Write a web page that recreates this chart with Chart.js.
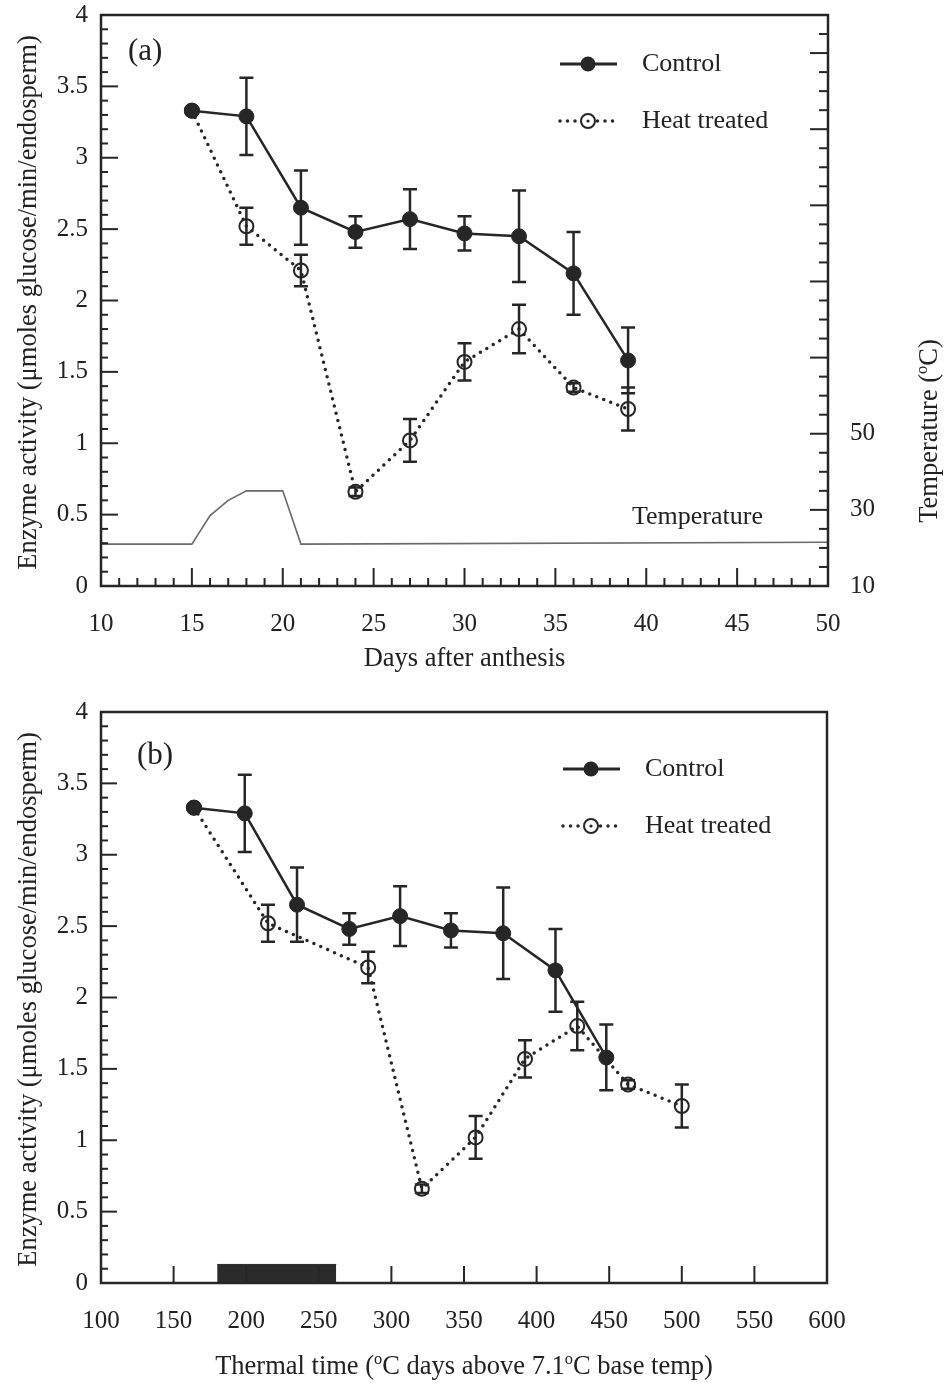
<!DOCTYPE html>
<html>
<head>
<meta charset="utf-8">
<script src="https://cdn.jsdelivr.net/npm/chart.js@4.4.0/dist/chart.umd.min.js"></script>
<style>
  body { margin: 0; background: #fff; }
  canvas { position: absolute; left: 0; }
  #chartA { top: 0; }
  #chartB { top: 690px; }
</style>
</head>
<body>
<canvas id="chartA" width="946" height="690"></canvas>
<canvas id="chartB" width="946" height="693"></canvas>
<script>
// panel (a): enzyme activity vs days after anthesis
const days = [15, 18, 21, 24, 27, 30, 33, 36, 39];
const controlActivity = [3.33, 3.29, 2.65, 2.48, 2.57, 2.47, 2.45, 2.19, 1.58];
const controlError = [0, 0.27, 0.26, 0.11, 0.21, 0.12, 0.32, 0.29, 0.23];
const heatActivity = [3.33, 2.52, 2.21, 0.66, 1.02, 1.57, 1.80, 1.39, 1.24];
const heatError = [0, 0.13, 0.11, 0.03, 0.15, 0.13, 0.17, 0.03, 0.15];

// temperature regime (right axis of panel a)
const tempDays = [10, 15, 16, 17, 18, 20, 21, 50];
const tempValues = [21, 21, 28.5, 32.5, 35, 35, 21, 21.5];
const tempLabels = [10, 30, 50];

// panel (b): same activities vs thermal time
const controlThermal = [164, 199, 235, 271, 306, 341, 377, 413, 448];
const heatThermal = [164, 215, 284, 321, 358, 392, 428, 463, 500];
const heatPeriod = [180, 262];       // thermal time of the heat treatment
const heatPeriodHeight = 0.13;

const family = '"Liberation Serif", "Times New Roman", serif';
const ink = '#262626';

Chart.defaults.font.family = family;
Chart.defaults.font.size = 25;
Chart.defaults.color = '#222';

const pts = (xs, ys) => xs.map((x, i) => ({ x, y: ys[i] }));

// text with optional superscript pieces, centred on (x, y)
function drawRich(ctx, parts, x, y, size, rotate) {
    ctx.save();
    ctx.translate(x, y);
    if (rotate) ctx.rotate(-Math.PI / 2);
    ctx.fillStyle = '#222';
    ctx.textBaseline = 'alphabetic';
    const supSize = size * 0.62;
    const setFont = p => { ctx.font = `${p.sup ? supSize : size}px ${family}`; };
    let total = 0;
    parts.forEach(p => { setFont(p); total += ctx.measureText(p.t).width; });
    let cx = -total / 2;
    parts.forEach(p => {
        setFont(p);
        ctx.fillText(p.t, cx, p.sup ? size * 0.35 - size * 0.4 : size * 0.35);
        cx += ctx.measureText(p.t).width;
    });
    ctx.restore();
}

function drawDotted(ctx, x1, x2, y) {
    ctx.save();
    ctx.setLineDash([0, 7.5]);
    ctx.lineCap = 'round';
    ctx.lineWidth = 3.5;
    ctx.strokeStyle = ink;
    ctx.beginPath();
    ctx.moveTo(x1, y);
    ctx.lineTo(x2, y);
    ctx.stroke();
    ctx.restore();
}

const decor = {
    id: 'decor',
    afterDatasetsDraw(chart) {
        // error bars on top of the markers
        const { ctx } = chart;
        const xs = chart.scales.x, ys = chart.scales.y;
        ctx.save();
        ctx.strokeStyle = ink;
        ctx.lineWidth = 2.5;
        chart.data.datasets.forEach(ds => {
            if (!ds.errors) return;
            ds.data.forEach((p, i) => {
                const e = ds.errors[i];
                if (!e) return;
                const px = xs.getPixelForValue(p.x);
                const top = ys.getPixelForValue(p.y + e);
                const bot = ys.getPixelForValue(p.y - e);
                ctx.beginPath();
                ctx.moveTo(px, top); ctx.lineTo(px, bot);
                ctx.moveTo(px - 7, top); ctx.lineTo(px + 7, top);
                ctx.moveTo(px - 7, bot); ctx.lineTo(px + 7, bot);
                ctx.stroke();
            });
        });
        ctx.restore();
    },
    afterDraw(chart, args, opts) {
        const { ctx, chartArea: a, scales } = chart;
        ctx.save();
        ctx.strokeStyle = ink;
        // inward tick marks
        ctx.lineWidth = 2;
        opts.ticks.forEach(t => {
            const s = scales[t.axis];
            const n = Math.round((t.to - t.from) / t.minor);
            for (let i = 0; i <= n; i++) {
                const v = t.from + i * t.minor;
                const k = (v - t.base) / t.major;
                const len = Math.abs(k - Math.round(k)) < 1e-6 ? t.majorLen : t.minorLen;
                const p = s.getPixelForValue(v);
                ctx.beginPath();
                if (t.side === 'left') { ctx.moveTo(a.left, p); ctx.lineTo(a.left + len, p); }
                if (t.side === 'right') { ctx.moveTo(a.right, p); ctx.lineTo(a.right - len, p); }
                if (t.side === 'bottom') { ctx.moveTo(p, a.bottom); ctx.lineTo(p, a.bottom - len); }
                ctx.stroke();
            }
        });
        // frame
        ctx.lineWidth = 2.5;
        ctx.strokeRect(a.left, a.top, a.right - a.left, a.bottom - a.top);

        // legend
        const lx = a.left + opts.legend.dx, ly = a.top + opts.legend.dy;
        ctx.lineWidth = 3;
        ctx.beginPath(); ctx.moveTo(lx, ly); ctx.lineTo(lx + 57, ly); ctx.stroke();
        ctx.fillStyle = ink;
        ctx.beginPath(); ctx.arc(lx + 28, ly, 7.5, 0, Math.PI * 2); ctx.fill();
        drawDotted(ctx, lx, lx + 58, ly + 57);
        ctx.lineWidth = 2;
        ctx.fillStyle = '#fff';
        ctx.beginPath(); ctx.arc(lx + 28, ly + 57, 7, 0, Math.PI * 2); ctx.fill(); ctx.stroke();
        ctx.fillStyle = ink;
        ctx.beginPath(); ctx.arc(lx + 28, ly + 57, 1.6, 0, Math.PI * 2); ctx.fill();
        ctx.fillStyle = '#222';
        ctx.font = `26px ${family}`;
        ctx.textBaseline = 'middle';
        ctx.fillText('Control', lx + 82, ly);
        ctx.fillText('Heat treated', lx + 82, ly + 57);
        (opts.notes || []).forEach(nt => ctx.fillText(nt.text, a.left + nt.dx, a.top + nt.dy));

        // panel letter
        ctx.font = `31px ${family}`;
        ctx.fillText(opts.panel.text, a.left + opts.panel.dx, a.top + opts.panel.dy);
        ctx.restore();

        // axis titles
        const midY = (a.top + a.bottom) / 2, midX = (a.left + a.right) / 2;
        drawRich(ctx, [{ t: 'Enzyme activity (μmoles glucose/min/endosperm)' }], 27, midY + 2, 26.5, true);
        drawRich(ctx, opts.xTitle, midX, a.bottom + opts.xTitleDy, 26.5, false);
        if (opts.rightTitle) drawRich(ctx, opts.rightTitle, a.right + 100, 431, 26.5, true);
    }
};

const noGrid = { display: false, drawTicks: false };
const noBorder = { display: false };
// fixed axis sizes so the plot frame lands where the original has it
const fixWidth = w => s => { s.width = w; s.paddingTop = 0; s.paddingBottom = 0; };
const fixHeight = h => s => { s.height = h; s.paddingLeft = 0; s.paddingRight = 0; };

const controlStyle = {
    label: 'Control', borderColor: ink, borderWidth: 2.5,
    pointRadius: 7.5, pointBackgroundColor: ink, pointBorderColor: ink, pointBorderWidth: 1
};
const heatStyle = {
    label: 'Heat treated', borderColor: ink, borderWidth: 3.5,
    borderDash: [0, 7.5], borderCapStyle: 'round',
    pointRadius: 7, pointBorderWidth: 2, pointBackgroundColor: 'rgba(255,255,255,0)', pointBorderColor: ink
};

new Chart(document.getElementById('chartA'), {
    type: 'line',
    data: {
        datasets: [
            { ...controlStyle, data: pts(days, controlActivity), errors: controlError },
            { ...heatStyle, data: pts(days, heatActivity), errors: heatError },
            { label: 'Temperature', data: pts(tempDays, tempValues), yAxisID: 'y2',
              borderColor: '#6a6a6a', borderWidth: 1.6, pointRadius: 0 }
        ]
    },
    options: {
        responsive: false,
        animation: false,
        layout: { padding: { top: 15, left: 0, right: 0, bottom: 0 } },
        plugins: {
            legend: { display: false },
            tooltip: { enabled: false },
            decor: {
                ticks: [
                    { axis: 'y', side: 'left', from: 0, to: 4, minor: 0.1, major: 0.5, base: 0, minorLen: 7, majorLen: 17 },
                    { axis: 'x', side: 'bottom', from: 10, to: 50, minor: 1, major: 5, base: 10, minorLen: 8, majorLen: 18 },
                    { axis: 'y2', side: 'right', from: 10, to: 160, minor: 5, major: 20, base: 10, minorLen: 9, majorLen: 18 }
                ],
                legend: { dx: 459, dy: 49 },
                panel: { text: '(a)', dx: 27, dy: 37 },
                notes: [{ text: 'Temperature', dx: 531, dy: 502 }],
                xTitle: [{ t: 'Days after anthesis' }],
                xTitleDy: 71,
                rightTitle: [{ t: 'Temperature (' }, { t: 'o', sup: true }, { t: 'C)' }]
            }
        },
        scales: {
            x: {
                type: 'linear', min: 10, max: 50,
                ticks: { stepSize: 5, padding: 23, maxRotation: 0, autoSkip: false },
                grid: noGrid, border: noBorder,
                afterFit: fixHeight(104)
            },
            y: {
                min: 0, max: 4,
                ticks: { stepSize: 0.5, padding: 13, autoSkip: false, callback: v => String(v) },
                grid: noGrid, border: noBorder,
                afterFit: fixWidth(101)
            },
            y2: {
                position: 'right', min: 10, max: 160,
                ticks: { stepSize: 5, padding: 22, autoSkip: false,
                         callback: v => tempLabels.includes(v) ? String(v) : '' },
                grid: noGrid, border: noBorder,
                afterFit: fixWidth(118)
            }
        }
    },
    plugins: [decor]
});

new Chart(document.getElementById('chartB'), {
    type: 'line',
    data: {
        datasets: [
            { ...controlStyle, data: pts(controlThermal, controlActivity), errors: controlError },
            { ...heatStyle, data: pts(heatThermal, heatActivity), errors: heatError },
            { label: 'Heat period', data: pts(heatPeriod, heatPeriod.map(() => heatPeriodHeight)),
              fill: 'origin', backgroundColor: '#2b2b2b', borderColor: '#2b2b2b', borderWidth: 1, pointRadius: 0 }
        ]
    },
    options: {
        responsive: false,
        animation: false,
        layout: { padding: { top: 22, left: 0, right: 119, bottom: 0 } },
        plugins: {
            legend: { display: false },
            tooltip: { enabled: false },
            decor: {
                ticks: [
                    { axis: 'y', side: 'left', from: 0, to: 4, minor: 0.1, major: 0.5, base: 0, minorLen: 7, majorLen: 16 },
                    { axis: 'x', side: 'bottom', from: 100, to: 600, minor: 50, major: 50, base: 100, minorLen: 17, majorLen: 17 }
                ],
                legend: { dx: 462, dy: 57 },
                panel: { text: '(b)', dx: 36, dy: 44 },
                xTitle: [{ t: 'Thermal time (' }, { t: 'o', sup: true }, { t: 'C days above 7.1' },
                         { t: 'o', sup: true }, { t: 'C base temp)' }],
                xTitleDy: 82
            }
        },
        scales: {
            x: {
                type: 'linear', min: 100, max: 600,
                ticks: { stepSize: 50, padding: 23, maxRotation: 0, autoSkip: false },
                grid: noGrid, border: noBorder,
                afterFit: fixHeight(100)
            },
            y: {
                min: 0, max: 4,
                ticks: { stepSize: 0.5, padding: 13, autoSkip: false, callback: v => String(v) },
                grid: noGrid, border: noBorder,
                afterFit: fixWidth(101)
            }
        }
    },
    plugins: [decor]
});
</script>
</body>
</html>
